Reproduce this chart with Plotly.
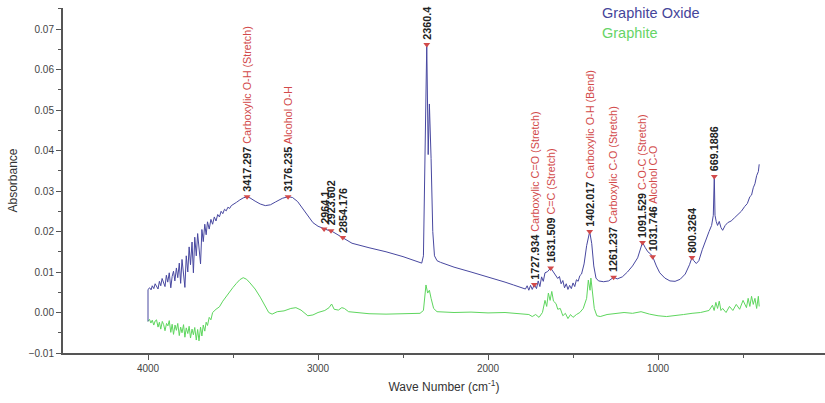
import plotly.graph_objects as go

# ---- Graphite Oxide spectrum (wavenumber cm-1, absorbance) ----
go_wn = [4000, 4000, 3990, 3982, 3975, 3966, 3958, 3950, 3941, 3933, 3925, 3917, 3908, 3900, 3892,
         3884, 3875, 3866, 3858, 3850, 3842, 3833, 3825, 3816, 3808, 3800, 3791, 3783, 3775,
         3766, 3758, 3750, 3741, 3733, 3725, 3716, 3708, 3700, 3691, 3683, 3675, 3666, 3658,
         3650, 3640, 3630, 3620, 3610, 3600, 3590, 3580, 3570, 3560, 3550, 3540, 3530, 3520,
         3510, 3500, 3480, 3460, 3440, 3417.297, 3400, 3370, 3340, 3310, 3280, 3250, 3210,
         3176.235, 3150, 3120, 3090, 3060, 3030, 3000, 2964.1, 2940, 2923.602, 2900, 2870,
         2854.176, 2830, 2800, 2700, 2600, 2500, 2420, 2390, 2380, 2370, 2360.4, 2352, 2345,
         2335, 2325, 2315, 2300, 2280, 2200, 2100, 2000, 1900, 1850, 1800, 1780, 1770, 1760,
         1750, 1740, 1727.934, 1715, 1705, 1695, 1685, 1675, 1665, 1650, 1631.509, 1615, 1600,
         1590, 1580, 1570, 1560, 1550, 1540, 1530, 1520, 1510, 1500, 1490, 1480, 1470, 1460,
         1450, 1435, 1420, 1402.017, 1390, 1378, 1365, 1350, 1320, 1290, 1261.237, 1240, 1210,
         1180, 1150, 1120, 1091.529, 1075, 1060, 1045, 1031.746, 1010, 990, 960, 930, 900, 870,
         840, 815, 800.3264, 790, 775, 760, 740, 720, 700, 685, 675, 669.1886, 665, 658, 650,
         640, 630, 620, 605, 590, 570, 550, 530, 510, 490, 475, 460, 450, 440, 430, 420, 410, 405]
go_abs = [-0.0022, 0.0057, 0.0061, 0.0056, 0.0066, 0.0059, 0.0071, 0.0063, 0.0058, 0.0077, 0.0066, 0.0084, 0.0070, 0.0064, 0.0092,
          0.0075, 0.0098, 0.0061, 0.0089, 0.0102, 0.0078, 0.0110, 0.0086, 0.0122, 0.0072, 0.0131, 0.0095, 0.0062, 0.0140,
          0.0100, 0.0162, 0.0118, 0.0174, 0.0098, 0.0186, 0.0140, 0.0195, 0.0155, 0.0120, 0.0205, 0.0175, 0.0218, 0.0192,
          0.0224, 0.0206, 0.0230, 0.0218, 0.0236, 0.0226, 0.0242, 0.0236, 0.0250, 0.0244, 0.0255, 0.0251, 0.0260, 0.0257,
          0.0264, 0.0266, 0.0272, 0.0278, 0.0283, 0.0286, 0.0283, 0.0275, 0.0268, 0.0264, 0.0266, 0.0273, 0.0282,
          0.0286, 0.0284, 0.0274, 0.0257, 0.0237, 0.0222, 0.0213, 0.0206, 0.0203, 0.0202, 0.0196, 0.0189,
          0.0185, 0.0177, 0.0171, 0.0160, 0.0150, 0.0138, 0.0127, 0.0122, 0.0140, 0.0400, 0.0662, 0.0390, 0.0515,
          0.0380, 0.0200, 0.0140, 0.0128, 0.0124, 0.0112, 0.0100, 0.0088, 0.0075, 0.0068, 0.0062, 0.0058, 0.0066, 0.0055,
          0.0067, 0.0057, 0.0069, 0.0059, 0.0078, 0.0064, 0.0088, 0.0077, 0.0098, 0.0101, 0.0110, 0.0100, 0.0092,
          0.0084, 0.0089, 0.0071, 0.0079, 0.0061, 0.0071, 0.0057, 0.0067, 0.0059, 0.0073, 0.0064, 0.0081, 0.0077, 0.0091,
          0.0095, 0.0120, 0.0165, 0.0200, 0.0170, 0.0115, 0.0085, 0.0078, 0.0076, 0.0078, 0.0087, 0.0083, 0.0088,
          0.0100, 0.0115, 0.0135, 0.0173, 0.0160, 0.0150, 0.0145, 0.0138, 0.0115, 0.0098, 0.0085, 0.0078, 0.0077, 0.0082,
          0.0095, 0.0118, 0.0136, 0.0128, 0.0121, 0.0128, 0.0155, 0.0180, 0.0200, 0.0215, 0.0240, 0.0336, 0.0240, 0.0225, 0.0215,
          0.0225, 0.0210, 0.0203, 0.0215, 0.0222, 0.0226, 0.0234, 0.0241, 0.0250, 0.0262, 0.0269, 0.0286, 0.0290, 0.0308, 0.0318, 0.0338, 0.0348, 0.0366]

# ---- Graphite spectrum ----
gr_wn = [4000, 3991, 3983, 3975, 3966, 3958, 3950, 3941, 3933, 3925, 3916, 3908, 3900, 3891, 3883,
         3875, 3866, 3858, 3850, 3841, 3833, 3825, 3816, 3808, 3800, 3791, 3783, 3775, 3766,
         3758, 3750, 3741, 3733, 3725, 3716, 3708, 3700, 3691, 3683, 3675, 3666, 3658, 3650,
         3640, 3630, 3620, 3600, 3580, 3560, 3540, 3520, 3500, 3480, 3460, 3440, 3420, 3400,
         3370, 3340, 3310, 3290, 3270, 3240, 3200, 3160, 3130, 3100, 3060, 3030, 3000, 2960,
         2935, 2920, 2905, 2880, 2860, 2845, 2820, 2700, 2600, 2500, 2400, 2380, 2365, 2355,
         2345, 2335, 2320, 2300, 2200, 2100, 2000, 1900, 1800, 1760, 1740, 1720, 1700, 1680,
         1665, 1655, 1645, 1635, 1625, 1615, 1600, 1590, 1575, 1560, 1545, 1530, 1515, 1500,
         1480, 1460, 1440, 1420, 1410, 1400, 1395, 1385, 1375, 1360, 1340, 1300, 1250, 1200,
         1150, 1100, 1050, 1000, 950, 900, 850, 800, 750, 700, 680, 670, 660, 650, 640, 630,
         620, 600, 580, 560, 540, 520, 500, 480, 470, 460, 450, 440, 430, 420, 410, 405]
gr_abs = [-0.0022, -0.0017, -0.0026, -0.0019, -0.0031, -0.0021, -0.0018, -0.0036, -0.0024, -0.0041, -0.0022, -0.0030, -0.0045, -0.0027, -0.0033,
          -0.0020, -0.0049, -0.0029, -0.0054, -0.0031, -0.0044, -0.0027, -0.0057, -0.0036, -0.0050, -0.0030, -0.0061, -0.0038, -0.0052,
          -0.0034, -0.0063, -0.0041, -0.0055, -0.0037, -0.0068, -0.0042, -0.0070, -0.0036, -0.0058, -0.0031, -0.0046, -0.0024, -0.0032,
          -0.0012, -0.0018, 0.0000, 0.0008, 0.0014, 0.0028, 0.0040, 0.0052, 0.0062, 0.0072, 0.0081, 0.0086, 0.0082, 0.0073,
          0.0058, 0.0038, 0.0014, 0.0000, -0.0004, 0.0002, 0.0004, 0.0010, 0.0012, 0.0006, -0.0008, -0.0006, 0.0000, 0.0005,
          0.0012, 0.0021, 0.0008, 0.0006, 0.0012, 0.0010, 0.0002, -0.0003, -0.0004, -0.0003, -0.0002, 0.0005, 0.0068, 0.0048,
          0.0055, 0.0035, 0.0010, 0.0002, 0.0000, 0.0001, -0.0001, 0.0000, -0.0003, -0.0005, -0.0010, -0.0005, -0.0012, 0.0000,
          0.0030, 0.0015, 0.0048, 0.0030, 0.0052, 0.0028, 0.0022, 0.0008, 0.0010, -0.0008, -0.0002, -0.0015, -0.0005, -0.0012,
          -0.0005, 0.0000, 0.0010, 0.0035, 0.0080, 0.0055, 0.0085, 0.0040, 0.0010, -0.0008, -0.0010, -0.0005, -0.0002, 0.0000,
          -0.0002, 0.0002, -0.0004, -0.0008, -0.0010, -0.0008, -0.0005, -0.0002, 0.0000, 0.0005, 0.0018, 0.0005, 0.0025, 0.0010, 0.0028, 0.0005,
          0.0010, 0.0000, 0.0015, 0.0005, 0.0020, 0.0008, 0.0030, 0.0012, 0.0035, 0.0015, 0.0040, 0.0020, 0.0035, 0.0010, 0.0040, 0.0015]

# ---- Peak labels ----
peak_wn = [3417.297, 3176.235, 2964.1, 2923.602, 2854.176, 2360.4, 1727.934, 1631.509,
           1402.017, 1261.237, 1091.529, 1031.746, 800.3264, 669.1886]
peak_abs = [0.0286, 0.0286, 0.0206, 0.0202, 0.0185, 0.0662, 0.0069, 0.0110,
            0.0200, 0.0087, 0.0173, 0.0138, 0.0136, 0.0336]
peak_num = ["3417.297", "3176.235", "2964.1", "2923.602", "2854.176", "2360.4", "1727.934", "1631.509",
            "1402.017", "1261.237", "1091.529", "1031.746", "800.3264", "669.1886"]
peak_desc = ["Carboxylic O-H (Stretch)", "Alcohol O-H", "", "", "", "", "Carboxylic C=O (Stretch)",
             "C=C (Stretch)", "Carboxylic O-H (Bend)", "Carboxylic C-O (Stretch)", "C-O-C (Stretch)",
             "Alcohol C-O", "", ""]

x_ticks = [4000, 3000, 2000, 1000]
x_tick_text = ["4000", "3000", "2000", "1000"]
y_ticks = [-0.01, 0.0, 0.01, 0.02, 0.03, 0.04, 0.05, 0.06, 0.07]

BLUE = "#4848a0"
GREEN = "#5ed65e"
RED = "#d24a4a"
FONT = "Liberation Sans, Arial"

fig = go.Figure()
fig.add_trace(go.Scatter(x=gr_wn, y=gr_abs, mode="lines", line=dict(color=GREEN, width=1),
                         name="Graphite", showlegend=False))
fig.add_trace(go.Scatter(x=go_wn, y=go_abs, mode="lines", line=dict(color=BLUE, width=1),
                         name="Graphite Oxide", showlegend=False))
fig.add_trace(go.Scatter(x=peak_wn, y=peak_abs, mode="markers",
                         marker=dict(symbol="triangle-down", size=6, color=RED),
                         showlegend=False, hoverinfo="skip"))

for wn, a, num, desc in zip(peak_wn, peak_abs, peak_num, peak_desc):
    txt = "<b>" + num + "</b>"
    if desc:
        txt += " <span style='color:" + RED + "'>" + desc + "</span>"
    fig.add_annotation(x=wn, y=a, text=txt, textangle=-90, showarrow=False,
                       xanchor="center", yanchor="bottom", yshift=3,
                       font=dict(family=FONT, size=10.8, color="#222222"))

fig.add_annotation(xref="paper", yref="paper", x=0.705, y=0.986, text="Graphite Oxide",
                   showarrow=False, xanchor="left", yanchor="middle",
                   font=dict(family=FONT, size=14.5, color="#45459a"))
fig.add_annotation(xref="paper", yref="paper", x=0.705, y=0.928, text="Graphite",
                   showarrow=False, xanchor="left", yanchor="middle",
                   font=dict(family=FONT, size=14.5, color="#66d466"))

axis_font = dict(family=FONT, size=10, color="#444444")
fig.update_layout(
    width=825, height=403,
    margin=dict(l=63, r=0, t=8, b=50),
    paper_bgcolor="white", plot_bgcolor="white",
    font=dict(family=FONT, color="#333333"),
    xaxis=dict(range=[4500, 18], tickvals=x_ticks, ticktext=x_tick_text, ticks="outside",
               ticklen=5, tickwidth=1.2, tickcolor="#555555", showline=True, linecolor="#555555",
               linewidth=2, showgrid=False, zeroline=False, tickfont=axis_font,
               minor=dict(tickvals=[3500, 2500, 1500, 500], ticks="outside", ticklen=3,
                          tickcolor="#555555", showgrid=False),
               title=dict(text="Wave Number (cm<sup>-1</sup>)", standoff=10,
                          font=dict(family=FONT, size=12, color="#333333")),
               automargin=False),
    yaxis=dict(range=[-0.01, 0.0752], tickvals=y_ticks, tickformat=".2f", ticks="outside",
               ticklen=5, tickwidth=1.2, tickcolor="#555555", showline=True, linecolor="#555555",
               linewidth=2, showgrid=False, zeroline=False, tickfont=axis_font,
               minor=dict(dtick=0.01, tick0=0.005, ticks="outside", ticklen=3,
                          tickcolor="#555555", showgrid=False),
               title=dict(text="Absorbance", standoff=8,
                          font=dict(family=FONT, size=12, color="#333333")),
               automargin=False),
)

fig.write_html("out.html", config={"displayModeBar": False},
               post_script="document.body.style.margin='0';document.body.style.overflow='hidden';")
